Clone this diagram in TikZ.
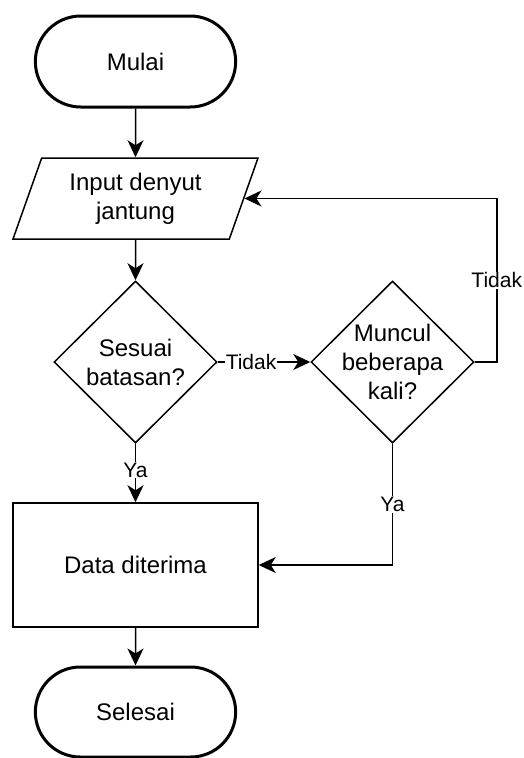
\documentclass[tikz,border=0pt]{standalone}
\usepackage{fontspec}
\setmainfont{Liberation Sans}
\usetikzlibrary{arrows.meta,shapes.geometric,shapes.misc,positioning}

\begin{document}
\begin{tikzpicture}[x=1pt, y=1pt, line width=1.5pt, %
    every node/.style={font=\fontsize{24}{29}\selectfont, align=center}, %
    flow/.style={-{Stealth[length=17pt, width=16pt, inset=5pt]}}, %
    lbl/.style={fill=white, inner sep=1pt, font=\fontsize{21}{25}\selectfont}]
  \useasboundingbox (0,0) rectangle (523,-758);
  \node[rounded rectangle, draw, line width=3pt, minimum width=207, %
        minimum height=91] (Mulai) at (135.5,-61.5) {Mulai};
%
  \node[trapezium, draw, trapezium left angle=63.7, trapezium right angle=116.3, %
        trapezium stretches body, minimum width=245, minimum height=81, %
        below of=Mulai, node distance=137] (Input) {Input denyut\\jantung};
%
  \node[diamond, draw, shape aspect=1, inner sep=-12pt, minimum width=163, %
        minimum height=162, below of=Input, node distance=163.5] %
       (Sesuai) {Sesuai\\batasan?};
  \node[diamond, draw, shape aspect=1, inner sep=-12pt, minimum width=163, %
        minimum height=162, right of=Sesuai, node distance=257] %
       (Muncul) {Muncul\\beberapa\\kali?};
%
  \node[rectangle, draw, minimum width=245, minimum height=124, %
        below of=Sesuai, node distance=203] (Data) {Data diterima};
%
  \node[rounded rectangle, draw, line width=3pt, minimum width=207, %
        minimum height=90, below of=Data, node distance=147] (Selesai) {Selesai};
%
  \draw [flow] (Mulai)--(Input);
  \draw [flow] (Input)--(Sesuai);
  \draw [flow] (Sesuai) -- node[lbl, pos=0.36] {Tidak} (Muncul);
  \draw [flow] (Sesuai) -- node[lbl, pos=0.45] {Ya} (Data);
  \draw [flow] (Muncul) |- node[lbl, pos=0.25] {Ya} (Data);
  \draw [flow] (Muncul.east) -- ++(22,0) |- node[lbl, pos=0.25] {Tidak} (Input);
  \draw [flow] (Data)--(Selesai);
\end{tikzpicture}
\end{document}
